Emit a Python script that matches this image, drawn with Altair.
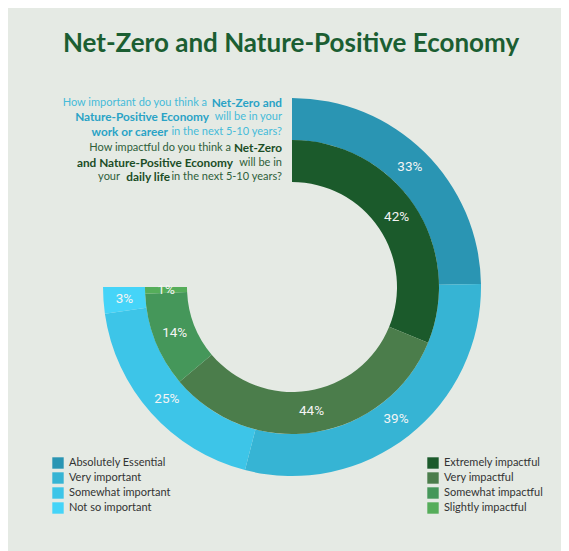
import math
import altair as alt
import pandas as pd

# ---------------- data ----------------
outer_categories = ["Absolutely Essential", "Very important", "Somewhat important", "Not so important"]
outer_values = [33, 39, 25, 3]
inner_categories = ["Extremely impactful", "Very impactful", "Somewhat impactful", "Slightly impactful"]
inner_values = [42, 44, 14, 1]

title_text = "Net-Zero and Nature-Positive Economy"
question_lines = [
    [("How important do you think a", False), ("Net-Zero and", True)],
    [("Nature-Positive Economy", True), ("will be in your", False)],
    [("work or career", True), ("in the next 5-10 years?", False)],
    [("How impactful do you think a", False), ("Net-Zero", True)],
    [("and Nature-Positive Economy", True), ("will be in", False)],
    [("your", False), ("daily life", True), ("in the next 5-10 years?", False)],
]

# ---------------- styles / layout ----------------
outer_colors = ["#2a95b3", "#36b4d4", "#3dc5e8", "#45d4f8"]
inner_colors = ["#1b5a2b", "#4b7d4b", "#45975a", "#55ad5a"]
BG = "#e5eae4"
CX, CY = 284, 279
R_OUT, R_MID, R_IN = 189, 147, 105

# right edges (page px) of each text segment, and line centre y
seg_right = [[207, 282], [209, 282], [168, 282], [231, 282], [233, 282], [120, 170, 282]]
line_y = [102.5, 117, 131.5, 148, 162.5, 177]
q_colors = [("#45bbd9", "#2aa3c6")] * 3 + [("#2f5e3a", "#1b4d26")] * 3


def ring(cats, vals):
    total = float(sum(vals))
    cum = 0.0
    rows = []
    for c, v in zip(cats, vals):
        rows.append(dict(cat=c, value=v, start=cum / total, end=(cum + v) / total,
                         mid=(cum + v / 2.0) / total, label=f"{v}%"))
        cum += v
    return pd.DataFrame(rows)


outer_df = ring(outer_categories, outer_values)
inner_df = ring(inner_categories, inner_values)

theta_scale = alt.Scale(domain=[0, 1], range=[0, 1.5 * math.pi])


def legend(x, y):
    return alt.Legend(title=None, orient="none", legendX=x, legendY=y, symbolType="square",
                      symbolSize=130, symbolStrokeWidth=0, labelFont="Lato", labelFontSize=11,
                      labelColor="#333333", rowPadding=3, labelOffset=5)


outer_arc = alt.Chart(outer_df).mark_arc(radius=R_OUT, radius2=R_MID).encode(
    theta=alt.Theta("start:Q", scale=theta_scale, stack=None),
    theta2="end:Q",
    color=alt.Color("cat:N", sort=outer_categories,
                    scale=alt.Scale(domain=outer_categories, range=outer_colors),
                    legend=legend(44, 449)),
    x=alt.value(CX), y=alt.value(CY),
)
inner_arc = alt.Chart(inner_df).mark_arc(radius=R_MID, radius2=R_IN).encode(
    theta=alt.Theta("start:Q", scale=theta_scale, stack=None),
    theta2="end:Q",
    color=alt.Color("cat:N", sort=inner_categories,
                    scale=alt.Scale(domain=inner_categories, range=inner_colors),
                    legend=legend(419, 449)),
    x=alt.value(CX), y=alt.value(CY),
)


def labels(df, r):
    return alt.Chart(df).mark_text(radius=r, font="Roboto", fontSize=13.5, color="#f4f4f4",
                                   align="center", baseline="middle").encode(
        theta=alt.Theta("mid:Q", scale=theta_scale, stack=None),
        text="label:N",
        x=alt.value(CX), y=alt.value(CY),
    )


outer_text = labels(outer_df, (R_OUT + R_MID) / 2)
inner_text = labels(inner_df, (R_MID + R_IN) / 2)

title = alt.Chart(pd.DataFrame({"t": [title_text]})).mark_text(
    align="center", baseline="alphabetic", font="Lato", fontSize=26, fontWeight="bold",
    color="#1b5e32").encode(text="t:N", x=alt.value(283), y=alt.value(44))

q_layers = []
for i, line in enumerate(question_lines):
    for j, (txt, bold) in enumerate(line):
        col = q_colors[i][1] if bold else q_colors[i][0]
        q_layers.append(
            alt.Chart(pd.DataFrame({"t": [txt]})).mark_text(
                align="right", baseline="middle", font="Lato",
                fontSize=11.8 if bold else 11,
                fontWeight="bold" if bold else "normal", color=col).encode(
                text="t:N", x=alt.value(seg_right[i][j] - 8), y=alt.value(line_y[i] - 8))
        )

chart = alt.layer(outer_arc, inner_arc, outer_text, inner_text, title, *q_layers).resolve_scale(
    color="independent"
).properties(
    width=553, height=543, background=BG, padding=0,
    autosize=alt.AutoSizeParams(type="none"),
).configure_view(stroke=None)

chart.save("out.html", embed_options={"renderer": "svg", "actions": False})
